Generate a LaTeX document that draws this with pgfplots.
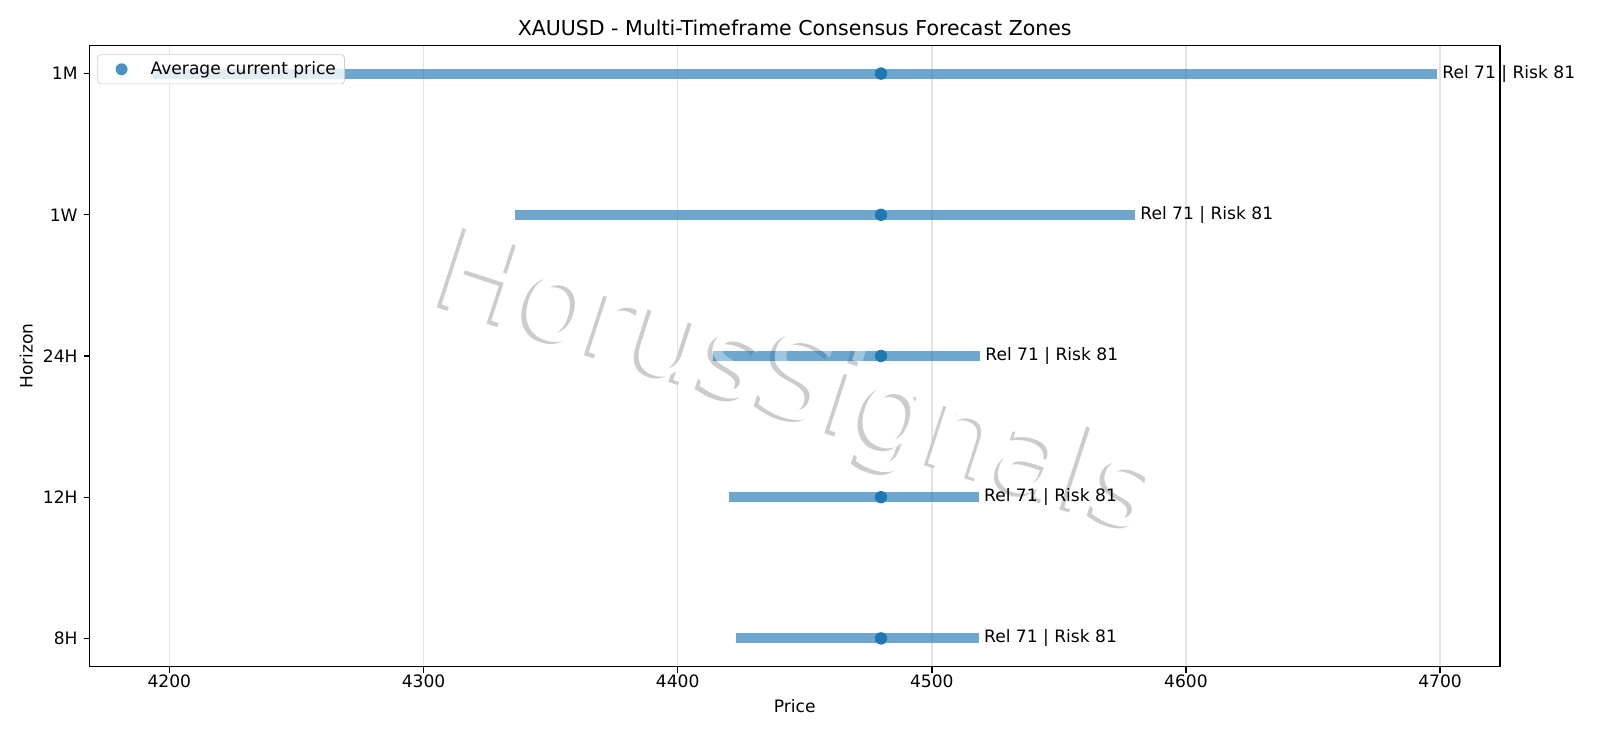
\documentclass[border=0pt]{standalone}
\usepackage{pgfplots}
\pgfplotsset{compat=1.18}
\usepackage{fontspec}
\setmainfont{DejaVu Sans}
\definecolor{mplblue}{HTML}{1F77B4}
\definecolor{gridc}{HTML}{E3E3E3}
\definecolor{shadowc}{HTML}{CCCCCC}
\newcommand{\wm}{\fontsize{67}{77}\selectfont}
\begin{document}
\begin{tikzpicture}
\begin{axis}[
  at={(52.4pt,42pt)}, anchor=south west,
  scale only axis, width=825pt, height=363.5pt,
  xmin=4168.6, xmax=4723.5, ymin=-0.2, ymax=4.2,
  xtick={4200,4300,4400,4500,4600,4700},
  ytick={0,1,2,3,4},
  yticklabels={8H,12H,24H,1W,1M},
  xticklabel style={/pgf/number format/1000 sep={}, yshift=2pt},
  /pgf/number format/assume math mode=true,
  tick align=outside, major tick length=3.5pt,
  every tick/.style={black, line width=0.8pt},
  axis line style={line width=0.8pt},
  xtick pos=bottom, ytick pos=left,
  xmajorgrids, grid style={gridc, line width=0.8pt},
  tick label style={font=\fontsize{10}{12}\selectfont},
  label style={font=\fontsize{10}{12}\selectfont},
  xlabel={Price}, ylabel={Horizon},
  ylabel style={yshift=-1pt},
  title={XAUUSD - Multi-Timeframe Consensus Forecast Zones},
  title style={font=\fontsize{12}{14}\selectfont, yshift=-4pt},
  clip=false,
  legend style={at={(0.0055,0.9855)}, anchor=north west, font=\fontsize{10}{12}\selectfont,
    draw=black!20, fill=white, fill opacity=0.8, text opacity=1, rounded corners=2pt,
    inner xsep=3pt, inner ysep=2pt,
    /tikz/every odd column/.append style={column sep=5pt}},
  legend cell align=left,
]
% watermark base: shadow then opaque white letters
\node[rotate=-18, text=shadowc, font=\wm, xshift=-2.2pt, yshift=-2.2pt] at (rel axis cs:0.501,0.45) {HorusSignals};
\node[rotate=-18, text=white, font=\wm] at (rel axis cs:0.501,0.45) {HorusSignals};
\addplot[mplblue, opacity=0.65, line width=5.9pt, line cap=butt, forget plot] coordinates {(4193.6,4) (4698.8,4)};
\addplot[mplblue, opacity=0.65, line width=5.9pt, line cap=butt, forget plot] coordinates {(4336,3) (4580,3)};
\addplot[mplblue, opacity=0.65, line width=5.9pt, line cap=butt, forget plot] coordinates {(4414,2) (4519,2)};
\addplot[mplblue, opacity=0.65, line width=5.9pt, line cap=butt, forget plot] coordinates {(4420,1) (4518.5,1)};
\addplot[mplblue, opacity=0.65, line width=5.9pt, line cap=butt, forget plot] coordinates {(4423,0) (4518.5,0)};
% watermark overlay lightening the bars
\node[rotate=-18, text=white, text opacity=0.35, font=\wm] at (rel axis cs:0.501,0.45) {HorusSignals};
\addplot[only marks, mark=*, mark size=3.4pt, draw=none, mark options={draw=mplblue, fill=mplblue},
  legend image code/.code={\path[draw=none] (0pt,0pt) -- (21pt,0pt); \fill[mplblue, draw=none] (11pt,0pt) circle (3.5pt);}] coordinates {
(4480,4) (4480,3) (4480,2) (4480,1) (4480,0)};
\addlegendentry{Average current price}
\node[anchor=west, font=\fontsize{10}{12}\selectfont, inner sep=0pt, xshift=2.9pt] at (axis cs:4698.8,4) {Rel 71 | Risk 81};
\node[anchor=west, font=\fontsize{10}{12}\selectfont, inner sep=0pt, xshift=2.9pt] at (axis cs:4580,3) {Rel 71 | Risk 81};
\node[anchor=west, font=\fontsize{10}{12}\selectfont, inner sep=0pt, xshift=2.9pt] at (axis cs:4519,2) {Rel 71 | Risk 81};
\node[anchor=west, font=\fontsize{10}{12}\selectfont, inner sep=0pt, xshift=2.9pt] at (axis cs:4518.5,1) {Rel 71 | Risk 81};
\node[anchor=west, font=\fontsize{10}{12}\selectfont, inner sep=0pt, xshift=2.9pt] at (axis cs:4518.5,0) {Rel 71 | Risk 81};
\end{axis}
\pgfresetboundingbox
\useasboundingbox (0,0) rectangle (936pt,432pt);
\end{tikzpicture}
\end{document}
